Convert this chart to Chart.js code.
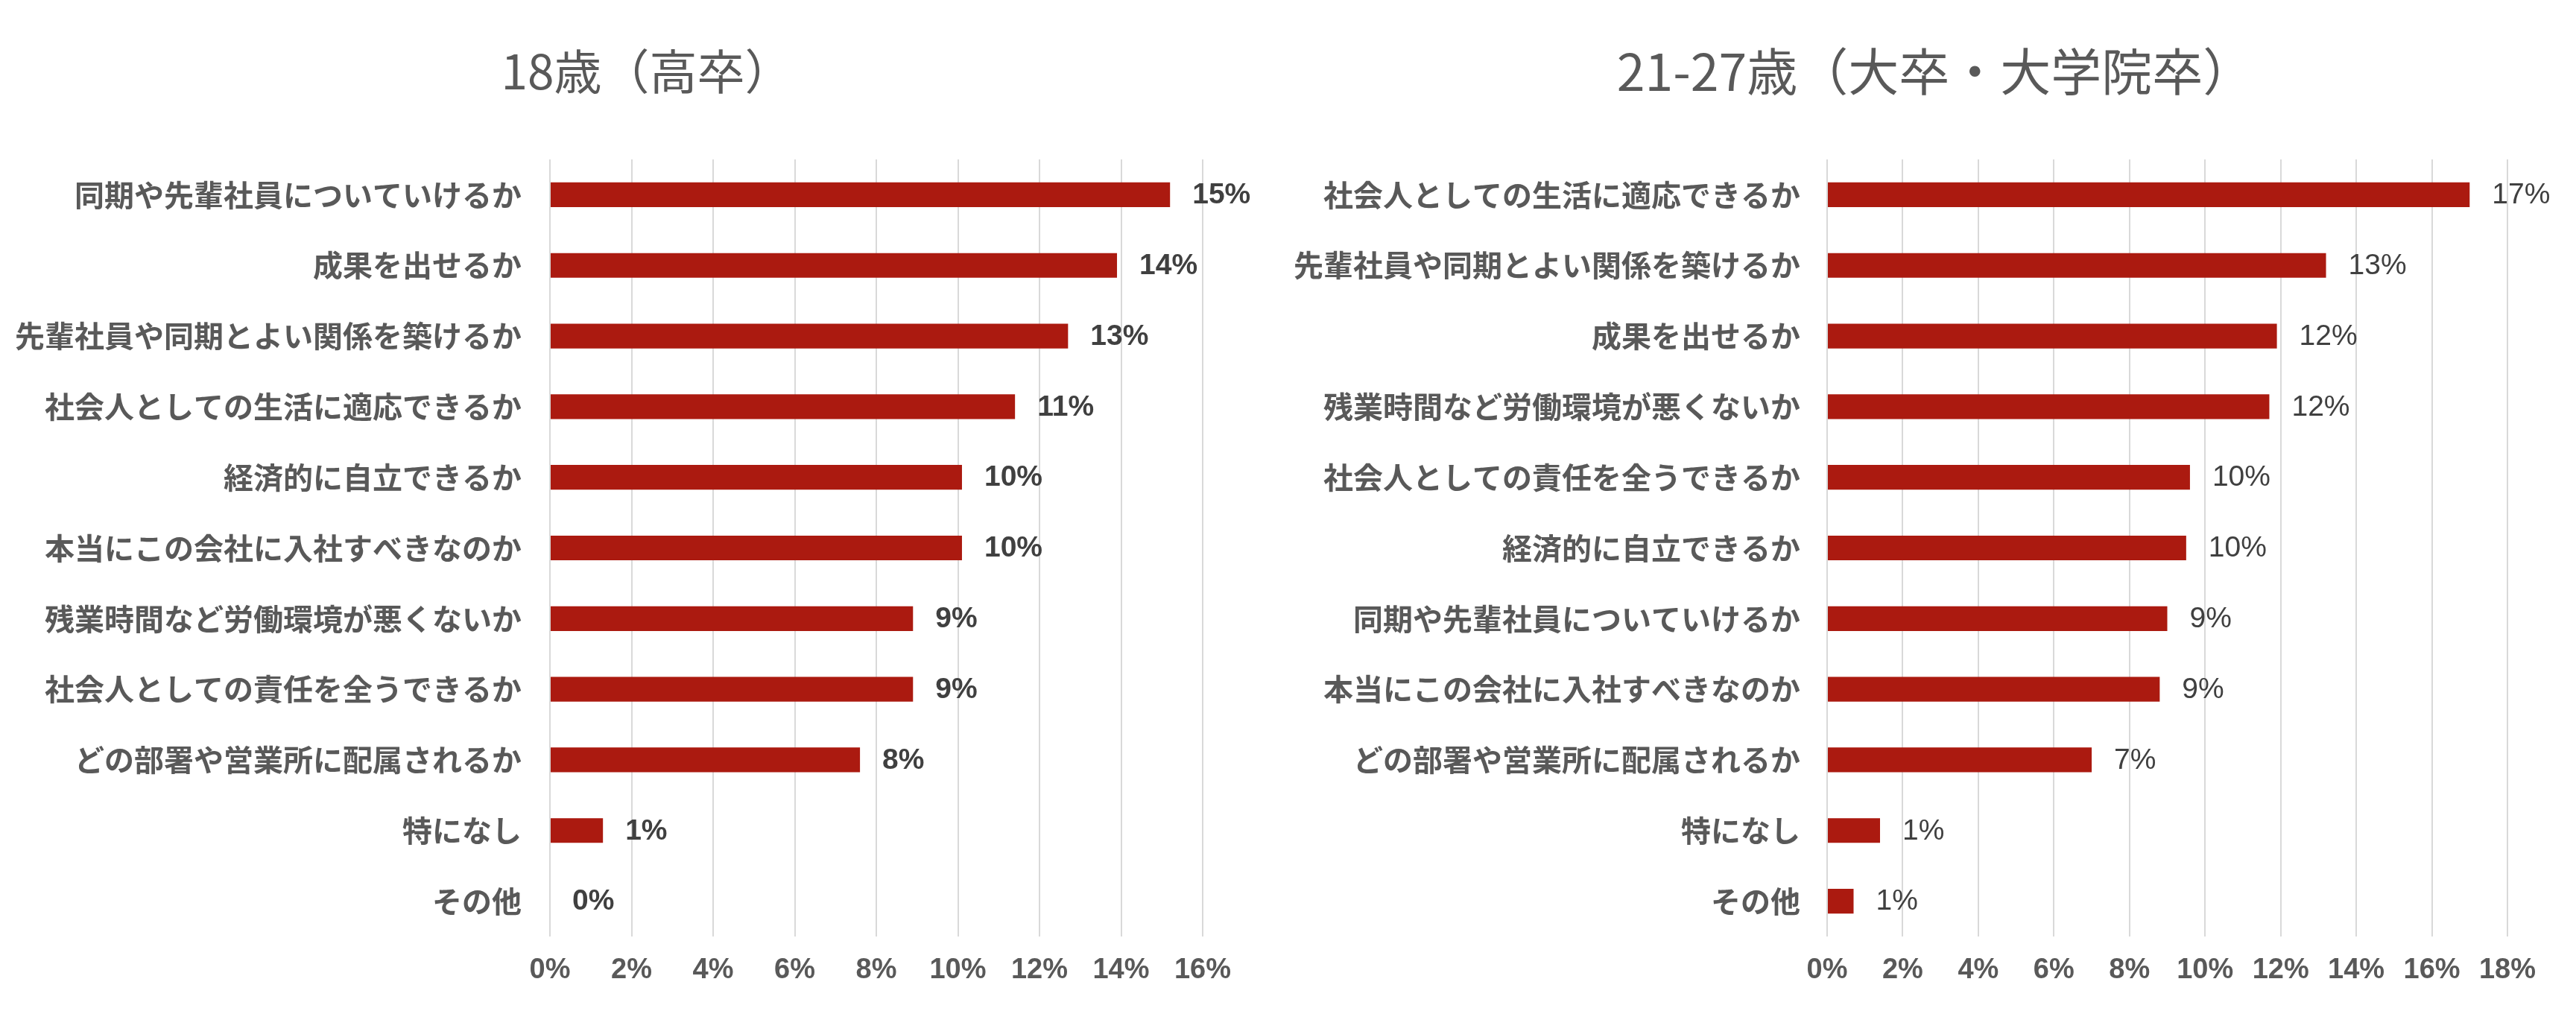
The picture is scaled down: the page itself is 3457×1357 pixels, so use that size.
<!DOCTYPE html>
<html>
<head>
<meta charset="utf-8">
<script src="https://cdn.jsdelivr.net/npm/chart.js@4.4.1/dist/chart.umd.min.js"></script>
<style>
  body { margin: 0; background: #fff; }
  .wrap { display: flex; width: 3457px; height: 1357px; }
  canvas { display: block; }
</style>
</head>
<body>
<div class="wrap">
  <canvas id="highChart" width="1728" height="1357"></canvas>
  <canvas id="univChart" width="1729" height="1357"></canvas>
</div>
<script>
const highTitle = "18歳（高卒）";
const highCategories = [
  "同期や先輩社員についていけるか",
  "成果を出せるか",
  "先輩社員や同期とよい関係を築けるか",
  "社会人としての生活に適応できるか",
  "経済的に自立できるか",
  "本当にこの会社に入社すべきなのか",
  "残業時間など労働環境が悪くないか",
  "社会人としての責任を全うできるか",
  "どの部署や営業所に配属されるか",
  "特になし",
  "その他",
];
const highValues = [15.2, 13.9, 12.7, 11.4, 10.1, 10.1, 8.9, 8.9, 7.6, 1.3, 0];

const univTitle = "21-27歳（大卒・大学院卒）";
const univCategories = [
  "社会人としての生活に適応できるか",
  "先輩社員や同期とよい関係を築けるか",
  "成果を出せるか",
  "残業時間など労働環境が悪くないか",
  "社会人としての責任を全うできるか",
  "経済的に自立できるか",
  "同期や先輩社員についていけるか",
  "本当にこの会社に入社すべきなのか",
  "どの部署や営業所に配属されるか",
  "特になし",
  "その他",
];
const univValues = [17.0, 13.2, 11.9, 11.7, 9.6, 9.5, 9.0, 8.8, 7.0, 1.4, 0.7];

const highTicks = [0, 2, 4, 6, 8, 10, 12, 14, 16];
const univTicks = [0, 2, 4, 6, 8, 10, 12, 14, 16, 18];

const barColor = "#ab1a10";
const jpFont = "'Noto Sans CJK JP', sans-serif";
const numFont = "'Liberation Sans', Arial, sans-serif";

// draws "15%" style labels just after each bar end
const valueLabels = {
  id: "valueLabels",
  afterDatasetsDraw(chart, args, opts) {
    const ctx = chart.ctx;
    const meta = chart.getDatasetMeta(0);
    const data = chart.data.datasets[0].data;
    ctx.save();
    ctx.font = opts.weight + " 39px " + numFont;
    ctx.fillStyle = "#404040";
    ctx.textAlign = "left";
    ctx.textBaseline = "middle";
    meta.data.forEach((bar, i) => {
      ctx.fillText(Math.round(data[i]) + "%", bar.x + 30, bar.y + 1);
    });
    ctx.restore();
  },
};

// panel title, centred on the panel rather than on the padded box
const panelTitle = {
  id: "panelTitle",
  afterDraw(chart, args, opts) {
    const ctx = chart.ctx;
    ctx.save();
    ctx.font = opts.size + "px " + jpFont;
    ctx.fillStyle = "#595959";
    ctx.textAlign = "center";
    ctx.textBaseline = "middle";
    ctx.fillText(opts.text, opts.x, opts.y);
    ctx.restore();
  },
};

function makeChart(id, title, cats, vals, ticks, s) {
  return new Chart(document.getElementById(id), {
    type: "bar",
    data: {
      labels: cats,
      datasets: [
        {
          data: vals,
          backgroundColor: barColor,
          barPercentage: 0.35,
          categoryPercentage: 1,
        },
      ],
    },
    options: {
      indexAxis: "y",
      responsive: false,
      animation: false,
      layout: {
        padding: { left: 0, right: s.right, top: 214, bottom: 0 },
      },
      plugins: {
        legend: { display: false },
        tooltip: { enabled: false },
        title: { display: false },
        panelTitle: { text: title, x: s.titleX, y: 96, size: s.titleSize },
        valueLabels: { weight: s.labelWeight },
      },
      scales: {
        x: {
          min: ticks[0],
          max: ticks[ticks.length - 1],
          afterBuildTicks: (scale) => {
            scale.ticks = ticks.map((v) => ({ value: v }));
          },
          afterFit: (scale) => {
            scale.height = 100;
          },
          grid: { color: "#d9d9d9", lineWidth: 2, drawTicks: false },
          border: { display: false },
          ticks: {
            padding: 23,
            color: "#595959",
            font: { family: numFont, size: 38, weight: "bold" },
            callback: (v) => v + "%",
          },
        },
        y: {
          afterFit: (scale) => {
            scale.width = s.axisLeft;
          },
          grid: { display: false, drawTicks: false },
          border: { display: false },
          ticks: {
            padding: s.catPad,
            color: "#595959",
            font: { family: jpFont, size: 40, weight: "bold" },
          },
        },
      },
    },
    plugins: [valueLabels, panelTitle],
  });
}

makeChart("highChart", highTitle, highCategories, highValues, highTicks, {
  right: 114,
  axisLeft: 738,
  catPad: 38,
  titleX: 868,
  titleSize: 64,
  labelWeight: "bold",
});

makeChart("univChart", univTitle, univCategories, univValues, univTicks, {
  right: 92,
  axisLeft: 724,
  catPad: 36,
  titleX: 869,
  titleSize: 68,
  labelWeight: "normal",
});
</script>
</body>
</html>
